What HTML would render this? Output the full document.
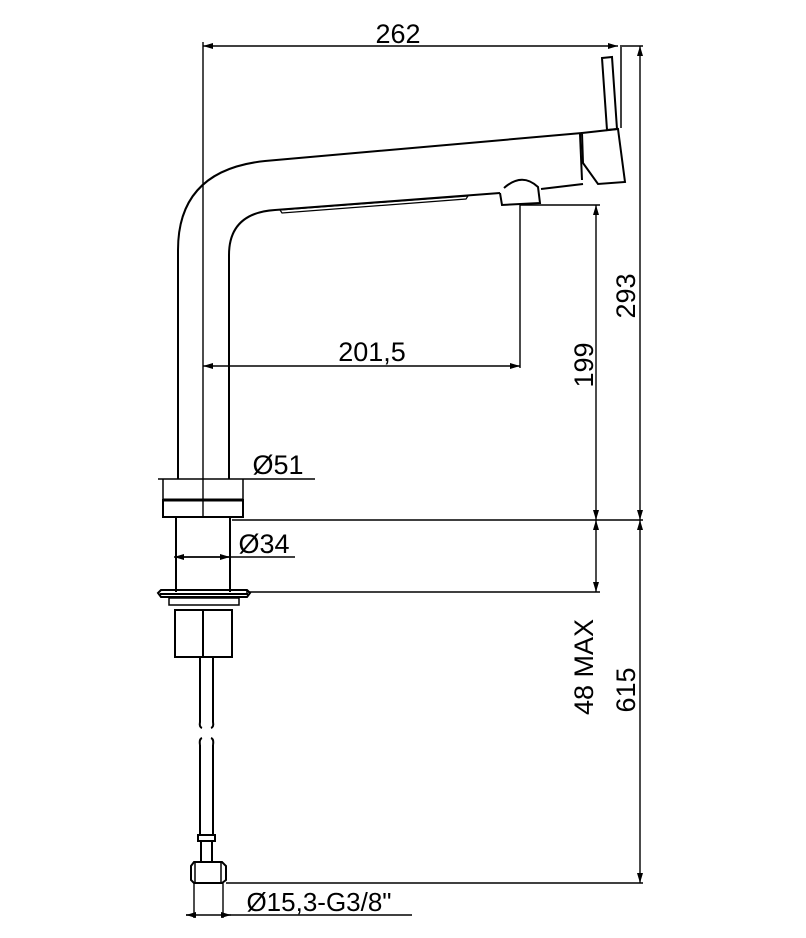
<!DOCTYPE html>
<html><head><meta charset="utf-8"><style>
html,body{margin:0;padding:0;background:#fff}
svg{display:block}
text{font-family:"Liberation Sans",sans-serif;fill:#000}
</style></head><body>
<svg width="806" height="938" viewBox="0 0 806 938" xmlns="http://www.w3.org/2000/svg">
<defs>
<marker id="a" viewBox="0 0 10 6" refX="10" refY="3" markerWidth="10" markerHeight="6" orient="auto-start-reverse" markerUnits="userSpaceOnUse"><path d="M0,0 L10,3 L0,6 z" fill="#000"/></marker>
</defs>
<g stroke="#000" fill="none" stroke-width="1.4">
<line x1="203" y1="42" x2="203" y2="517"/>
<line x1="203" y1="46" x2="618" y2="46" marker-start="url(#a)" marker-end="url(#a)"/>
<line x1="622" y1="46" x2="643" y2="46"/>
<path d="M178,479 L178,250 Q178,170 265,161 L582,133" stroke-width="2"/>
<path d="M229,479 L229,255 Q229,213 275,210 L500,193" stroke-width="2"/>
<path d="M280,210 L468,196 L466,199 L282,213 z" stroke-width="1.2"/>
<path d="M541,189 L583,184" stroke-width="2"/>
<path d="M500,193 L502,205 L540,203 L538,187 Q522,172 504,188" stroke-width="2"/>
<path d="M582,133 L618,129 L625,182 L598,184 L583,163 z" stroke-width="2"/>
<path d="M580,134 L582,180" stroke-width="2"/>
<path d="M602,58 L612,57 L617,129 L607,130 z" stroke-width="2"/>
<line x1="621" y1="45" x2="621" y2="128" stroke-width="1.5"/>
<line x1="203" y1="366" x2="520" y2="366" marker-start="url(#a)" marker-end="url(#a)"/>
<line x1="520" y1="203" x2="520" y2="368"/>
<line x1="520" y1="205" x2="600" y2="205"/>
<line x1="596" y1="205" x2="596" y2="520" marker-start="url(#a)" marker-end="url(#a)"/>
<line x1="640" y1="46" x2="640" y2="520" marker-start="url(#a)" marker-end="url(#a)"/>
<line x1="640" y1="520" x2="640" y2="883" marker-start="url(#a)" marker-end="url(#a)"/>
<line x1="596" y1="520" x2="596" y2="592" marker-start="url(#a)" marker-end="url(#a)"/>
<line x1="232" y1="520" x2="643" y2="520"/>
<line x1="246" y1="592" x2="600" y2="592"/>
<line x1="226" y1="883" x2="643" y2="883"/>
<line x1="158" y1="479" x2="315" y2="479"/>
<line x1="163" y1="479" x2="163" y2="500" stroke-width="1.5"/>
<line x1="243" y1="479" x2="243" y2="500" stroke-width="1.5"/>
<rect x="163" y="500" width="80" height="17" stroke-width="2"/>
<line x1="163" y1="500" x2="243" y2="500" stroke-width="3"/>
<line x1="176" y1="517" x2="176" y2="592" stroke-width="2"/>
<line x1="230" y1="517" x2="230" y2="592" stroke-width="2"/>
<line x1="174" y1="557" x2="295" y2="557" marker-start="url(#a)"/>
<line x1="230" y1="557" x2="176" y2="557" marker-start="url(#a)"/>
<path d="M158,593 L161,590 L247,590 L250,593 L247,597 L161,597 z" stroke-width="2"/>
<line x1="160" y1="594" x2="248" y2="594" stroke-width="2"/>
<rect x="169" y="598" width="70" height="7" stroke-width="1.5"/>
<rect x="175" y="610" width="57" height="47" stroke-width="2"/>
<line x1="203" y1="610" x2="203" y2="657" stroke-width="2"/>
<path d="M200,657 L200,722 Q199,727 202,728 M213,657 L213,722 Q214,727 211,728" stroke-width="2"/>
<path d="M200,745 L200,835 M213,745 L213,835 M200,745 Q199,739 202,738 M213,745 Q214,739 211,738" stroke-width="2"/>
<rect x="198" y="835" width="17" height="6" stroke-width="2"/>
<line x1="201" y1="841" x2="201" y2="863" stroke-width="2"/>
<line x1="212" y1="841" x2="212" y2="863" stroke-width="2"/>
<path d="M191,866 L194,862 L222,862 L226,866 L226,880 L222,883 L194,883 L191,880 z" stroke-width="2"/>
<line x1="195" y1="862" x2="195" y2="883" stroke-width="1.5"/>
<line x1="221" y1="862" x2="221" y2="883" stroke-width="1.5"/>
<line x1="194" y1="883" x2="194" y2="918"/>
<line x1="223" y1="883" x2="223" y2="918"/>
<line x1="186" y1="915" x2="412" y2="915"/>
<line x1="194" y1="915" x2="186" y2="915" marker-end="url(#a)"/>
<line x1="223" y1="915" x2="231" y2="915" marker-end="url(#a)"/>
</g>
<text x="398" y="43" font-size="27" text-anchor="middle">262</text>
<text x="372" y="361" font-size="27" text-anchor="middle">201,5</text>
<text x="278" y="474" font-size="27" text-anchor="middle">Ø51</text>
<text x="264" y="553" font-size="27" text-anchor="middle">Ø34</text>
<text x="319" y="911" font-size="26" text-anchor="middle">Ø15,3-G3/8"</text>
<text transform="translate(593,365) rotate(-90)" font-size="27" text-anchor="middle">199</text>
<text transform="translate(635,296) rotate(-90)" font-size="27" text-anchor="middle">293</text>
<text transform="translate(593,667) rotate(-90)" font-size="27" text-anchor="middle">48 MAX</text>
<text transform="translate(635,690) rotate(-90)" font-size="27" text-anchor="middle">615</text>
</svg>
</body></html>
